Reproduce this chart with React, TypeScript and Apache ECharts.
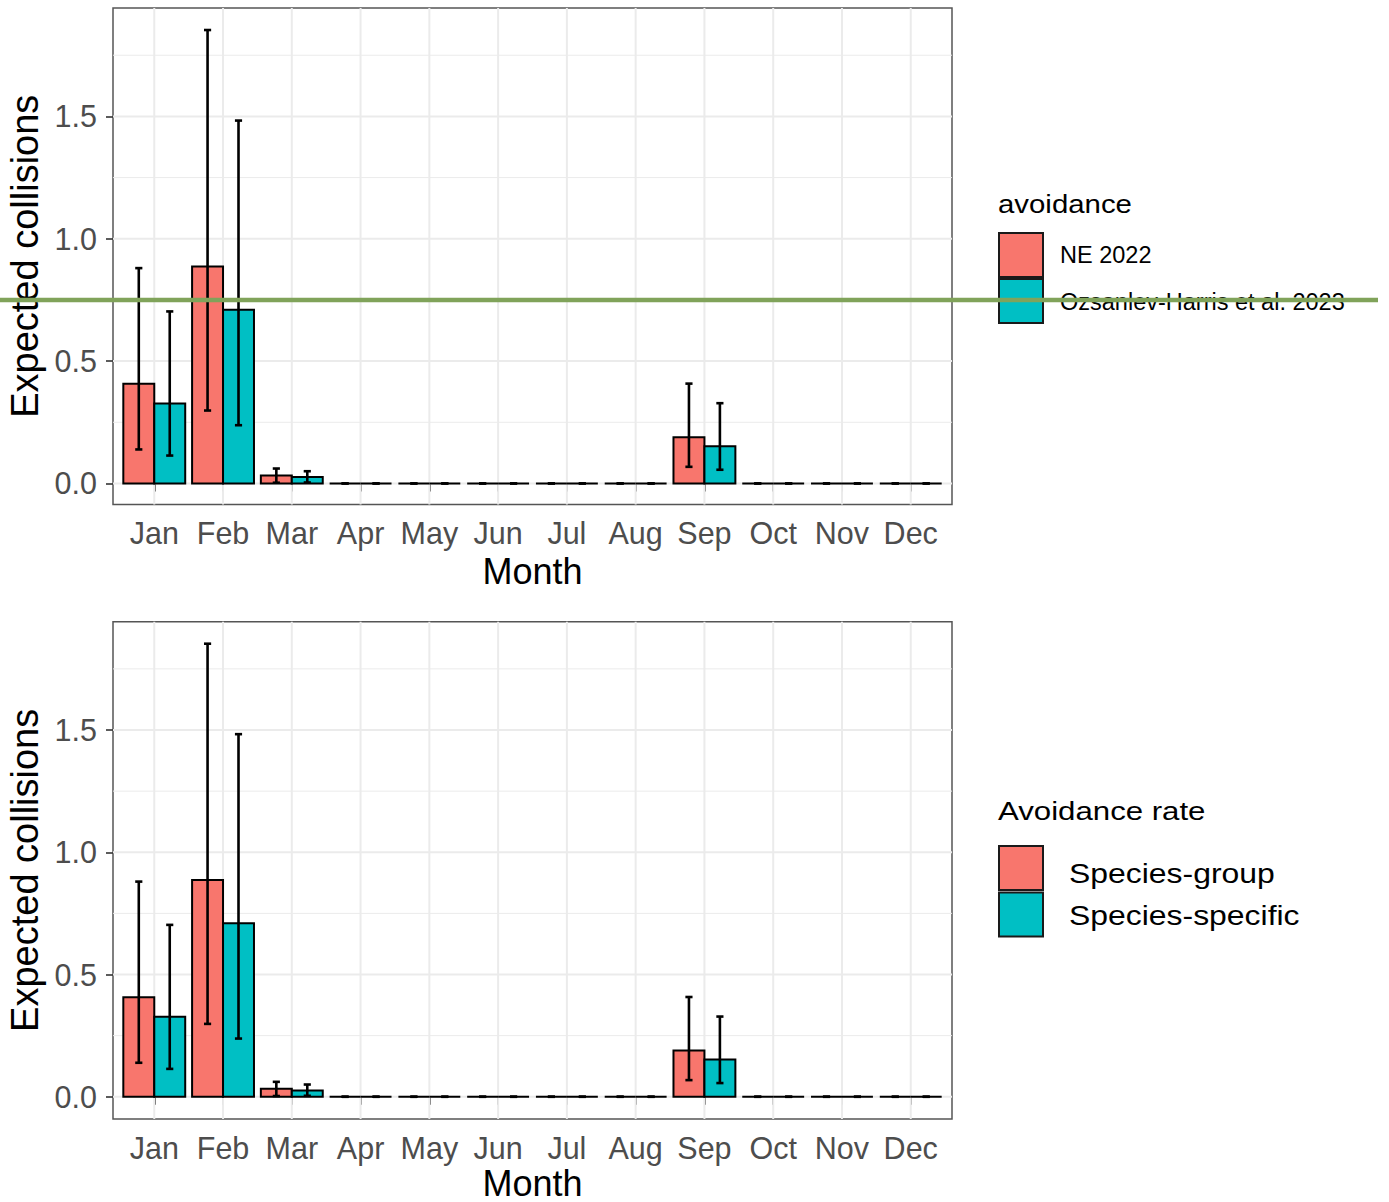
import React, { useEffect, useRef } from "react";
import * as echarts from "echarts";

// Months on the x axis
const MONTHS = ["Jan", "Feb", "Mar", "Apr", "May", "Jun", "Jul", "Aug", "Sep", "Oct", "Nov", "Dec"];
const MONTH_POS = [1, 2, 3, 4, 5, 6, 7, 8, 9, 10, 11, 12];

// Expected collisions per month, first avoidance rate (red bars)
const FIRST_MEAN = [0.407, 0.887, 0.033, 0, 0, 0, 0, 0, 0.189, 0, 0, 0];
const FIRST_LOW = [0.139, 0.298, 0.003, 0, 0, 0, 0, 0, 0.068, 0, 0, 0];
const FIRST_HIGH = [0.88, 1.853, 0.061, 0, 0, 0, 0, 0, 0.408, 0, 0, 0];

// Expected collisions per month, second avoidance rate (teal bars)
const SECOND_MEAN = [0.327, 0.71, 0.026, 0, 0, 0, 0, 0, 0.152, 0, 0, 0];
const SECOND_LOW = [0.114, 0.238, 0.004, 0, 0, 0, 0, 0, 0.056, 0, 0, 0];
const SECOND_HIGH = [0.703, 1.483, 0.05, 0, 0, 0, 0, 0, 0.328, 0, 0, 0];

// y-axis ticks and grid lines
const Y_TICKS = [0, 0.5, 1, 1.5];
const Y_MINOR = [0.25, 0.75, 1.25, 1.75];

// Legend texts for each panel
const TOP_LEGEND_TITLE = "avoidance";
const TOP_LEGEND_LABELS = ["NE 2022", "Ozsanlev-Harris et al. 2023"];
const BOTTOM_LEGEND_TITLE = "Avoidance rate";
const BOTTOM_LEGEND_LABELS = ["Species-group", "Species-specific"];

const RED = "#F8766D";
const TEAL = "#00BFC4";
const FONT = "Liberation Sans, Arial, sans-serif";

const BAR_HALF = 0.225; // half of one dodged bar, in month units
const CAP_HALF = 0.052; // half width of an error-bar cap

const PANELS = [
  { top: 8, height: 496.5, yMin: -0.086, yMax: 1.943, monthGap: 49 },
  { top: 621.7, height: 497.3, yMin: -0.091, yMax: 1.943, monthGap: 46 },
];

function barItem(offset: number, color: string) {
  return (params: any, api: any) => {
    const m = api.value(0);
    const v = api.value(1);
    const p0 = api.coord([m + offset - BAR_HALF, v]);
    const p1 = api.coord([m + offset + BAR_HALF, 0]);
    return {
      type: "rect",
      shape: { x: p0[0], y: p0[1], width: p1[0] - p0[0], height: p1[1] - p0[1] },
      style: { fill: color, stroke: "#000", lineWidth: 2 },
    };
  };
}

function errorItem(offset: number) {
  return (params: any, api: any) => {
    const m = api.value(0) + offset;
    const lo = api.coord([m, api.value(1)]);
    const hi = api.coord([m, api.value(2)]);
    const l = api.coord([m - CAP_HALF, 0])[0];
    const r = api.coord([m + CAP_HALF, 0])[0];
    const st = { stroke: "#000", lineWidth: 2.6 };
    return {
      type: "group",
      children: [
        { type: "line", shape: { x1: lo[0], y1: lo[1], x2: hi[0], y2: hi[1] }, style: st },
        { type: "line", shape: { x1: l, y1: lo[1], x2: r, y2: lo[1] }, style: st },
        { type: "line", shape: { x1: l, y1: hi[1], x2: r, y2: hi[1] }, style: st },
      ],
    };
  };
}

function vGrid(params: any, api: any) {
  const cs = params.coordSys;
  const x = api.coord([api.value(0), 0])[0];
  return {
    type: "line",
    shape: { x1: x, y1: cs.y, x2: x, y2: cs.y + cs.height },
    style: { stroke: "#EBEBEB", lineWidth: 2 },
  };
}

function hGrid(width: number) {
  return (params: any, api: any) => {
    const cs = params.coordSys;
    const y = api.coord([1, api.value(1)])[1];
    return {
      type: "line",
      shape: { x1: cs.x, y1: y, x2: cs.x + cs.width, y2: y },
      style: { stroke: "#EBEBEB", lineWidth: width },
    };
  };
}

function legend(title: string, labels: string[], opts: any) {
  const els: any[] = [];
  els.push({
    type: "text",
    x: 998,
    y: opts.titleY,
    scaleX: opts.titleScale,
    style: {
      text: title,
      fontSize: opts.titleSize,
      fontFamily: FONT,
      fill: "#000",
      textAlign: "left",
      textVerticalAlign: "middle",
    },
  });
  [RED, TEAL].forEach((c, i) => {
    els.push({
      type: "rect",
      shape: { x: 999, y: opts.keyY[i], width: 44, height: 44 },
      style: { fill: c, stroke: "#1a1a1a", lineWidth: 2 },
    });
    els.push({
      type: "text",
      x: opts.labelX,
      y: opts.labelY[i],
      scaleX: opts.labelScale,
      style: {
        text: labels[i],
        fontSize: opts.labelSize,
        fontFamily: FONT,
        fill: "#000",
        textAlign: "left",
        textVerticalAlign: "middle",
      },
    });
  });
  return els;
}

export default function App() {
  const ref = useRef<HTMLDivElement>(null);

  useEffect(() => {
    if (!ref.current) return;
    const chart = echarts.init(ref.current, null, { renderer: "svg" });

    const grid = PANELS.map((p) => ({
      left: 113,
      top: p.top,
      width: 839,
      height: p.height,
      outerBoundsMode: "none",
      containLabel: false,
      show: true,
      backgroundColor: "#fff",
      borderColor: "#555",
      borderWidth: 1.5,
    }));

    const xAxis = PANELS.map((p, i) => ({
      type: "value",
      gridIndex: i,
      min: 0.4,
      max: 12.6,
      name: "Month",
      nameLocation: "middle",
      nameGap: p.monthGap,
      nameTextStyle: { fontSize: 36, color: "#000", fontFamily: FONT },
      axisLine: { show: false },
      splitLine: { show: false },
      axisTick: { show: true, length: 8, customValues: MONTH_POS, lineStyle: { color: "#333", width: 1.6 } },
      axisLabel: {
        customValues: MONTH_POS,
        formatter: (v: number) => MONTHS[Math.round(v) - 1] ?? "",
        fontSize: 30.5,
        color: "#4D4D4D",
        fontFamily: FONT,
        margin: 13,
      },
    }));

    const yAxis = PANELS.map((p, i) => ({
      type: "value",
      gridIndex: i,
      min: p.yMin,
      max: p.yMax,
      name: "Expected collisions",
      nameLocation: "middle",
      nameGap: 67,
      nameTextStyle: { fontSize: 38, color: "#000", fontFamily: FONT },
      axisLine: { show: false },
      splitLine: { show: false },
      axisTick: { show: true, length: 7, customValues: Y_TICKS, lineStyle: { color: "#333", width: 1.6 } },
      axisLabel: {
        customValues: Y_TICKS,
        formatter: (v: number) => v.toFixed(1),
        fontSize: 30.5,
        color: "#4D4D4D",
        fontFamily: FONT,
        margin: 16,
      },
    }));

    const series: any[] = [];
    PANELS.forEach((p, i) => {
      const ax = { xAxisIndex: i, yAxisIndex: i };
      series.push({
        type: "custom",
        ...ax,
        silent: true,
        z: 1,
        renderItem: hGrid(1),
        encode: { x: 0, y: 1 },
        data: Y_MINOR.map((v) => [1, v]),
      });
      series.push({
        type: "custom",
        ...ax,
        silent: true,
        z: 1,
        renderItem: hGrid(2),
        encode: { x: 0, y: 1 },
        data: Y_TICKS.map((v) => [1, v]),
      });
      series.push({
        type: "custom",
        ...ax,
        silent: true,
        z: 1,
        renderItem: vGrid,
        encode: { x: 0, y: 1 },
        data: MONTH_POS.map((m) => [m, 0]),
      });
      series.push({
        type: "custom",
        ...ax,
        silent: true,
        z: 2,
        renderItem: barItem(-BAR_HALF, RED),
        encode: { x: 0, y: 1 },
        data: MONTH_POS.map((m, k) => [m, FIRST_MEAN[k]]),
      });
      series.push({
        type: "custom",
        ...ax,
        silent: true,
        z: 2,
        renderItem: barItem(BAR_HALF, TEAL),
        encode: { x: 0, y: 1 },
        data: MONTH_POS.map((m, k) => [m, SECOND_MEAN[k]]),
      });
      series.push({
        type: "custom",
        ...ax,
        silent: true,
        z: 3,
        renderItem: errorItem(-BAR_HALF),
        encode: { x: 0, y: [1, 2] },
        data: MONTH_POS.map((m, k) => [m, FIRST_LOW[k], FIRST_HIGH[k]]),
      });
      series.push({
        type: "custom",
        ...ax,
        silent: true,
        z: 3,
        renderItem: errorItem(BAR_HALF),
        encode: { x: 0, y: [1, 2] },
        data: MONTH_POS.map((m, k) => [m, SECOND_LOW[k], SECOND_HIGH[k]]),
      });
    });

    const graphic: any[] = [
      ...legend(TOP_LEGEND_TITLE, TOP_LEGEND_LABELS, {
        titleY: 204,
        titleSize: 26,
        titleScale: 1.13,
        keyY: [233, 279],
        labelX: 1060,
        labelY: [255, 301.5],
        labelSize: 23.5,
        labelScale: 1,
      }),
      ...legend(BOTTOM_LEGEND_TITLE, BOTTOM_LEGEND_LABELS, {
        titleY: 811,
        titleSize: 26,
        titleScale: 1.2,
        keyY: [846, 892.5],
        labelX: 1069,
        labelY: [873, 915],
        labelSize: 28,
        labelScale: 1.14,
      }),
      {
        type: "line",
        z: 100,
        shape: { x1: 0, y1: 300, x2: 1378, y2: 300 },
        style: { stroke: "#80A35A", lineWidth: 4.5 },
      },
    ];

    chart.setOption({
      animation: false,
      backgroundColor: "#fff",
      grid,
      xAxis,
      yAxis,
      series,
      graphic,
    });

    return () => chart.dispose();
  }, []);

  return (
    <div
      ref={ref}
      style={{ position: "absolute", left: 0, top: 0, width: 1389, height: 1202 }}
    />
  );
}
